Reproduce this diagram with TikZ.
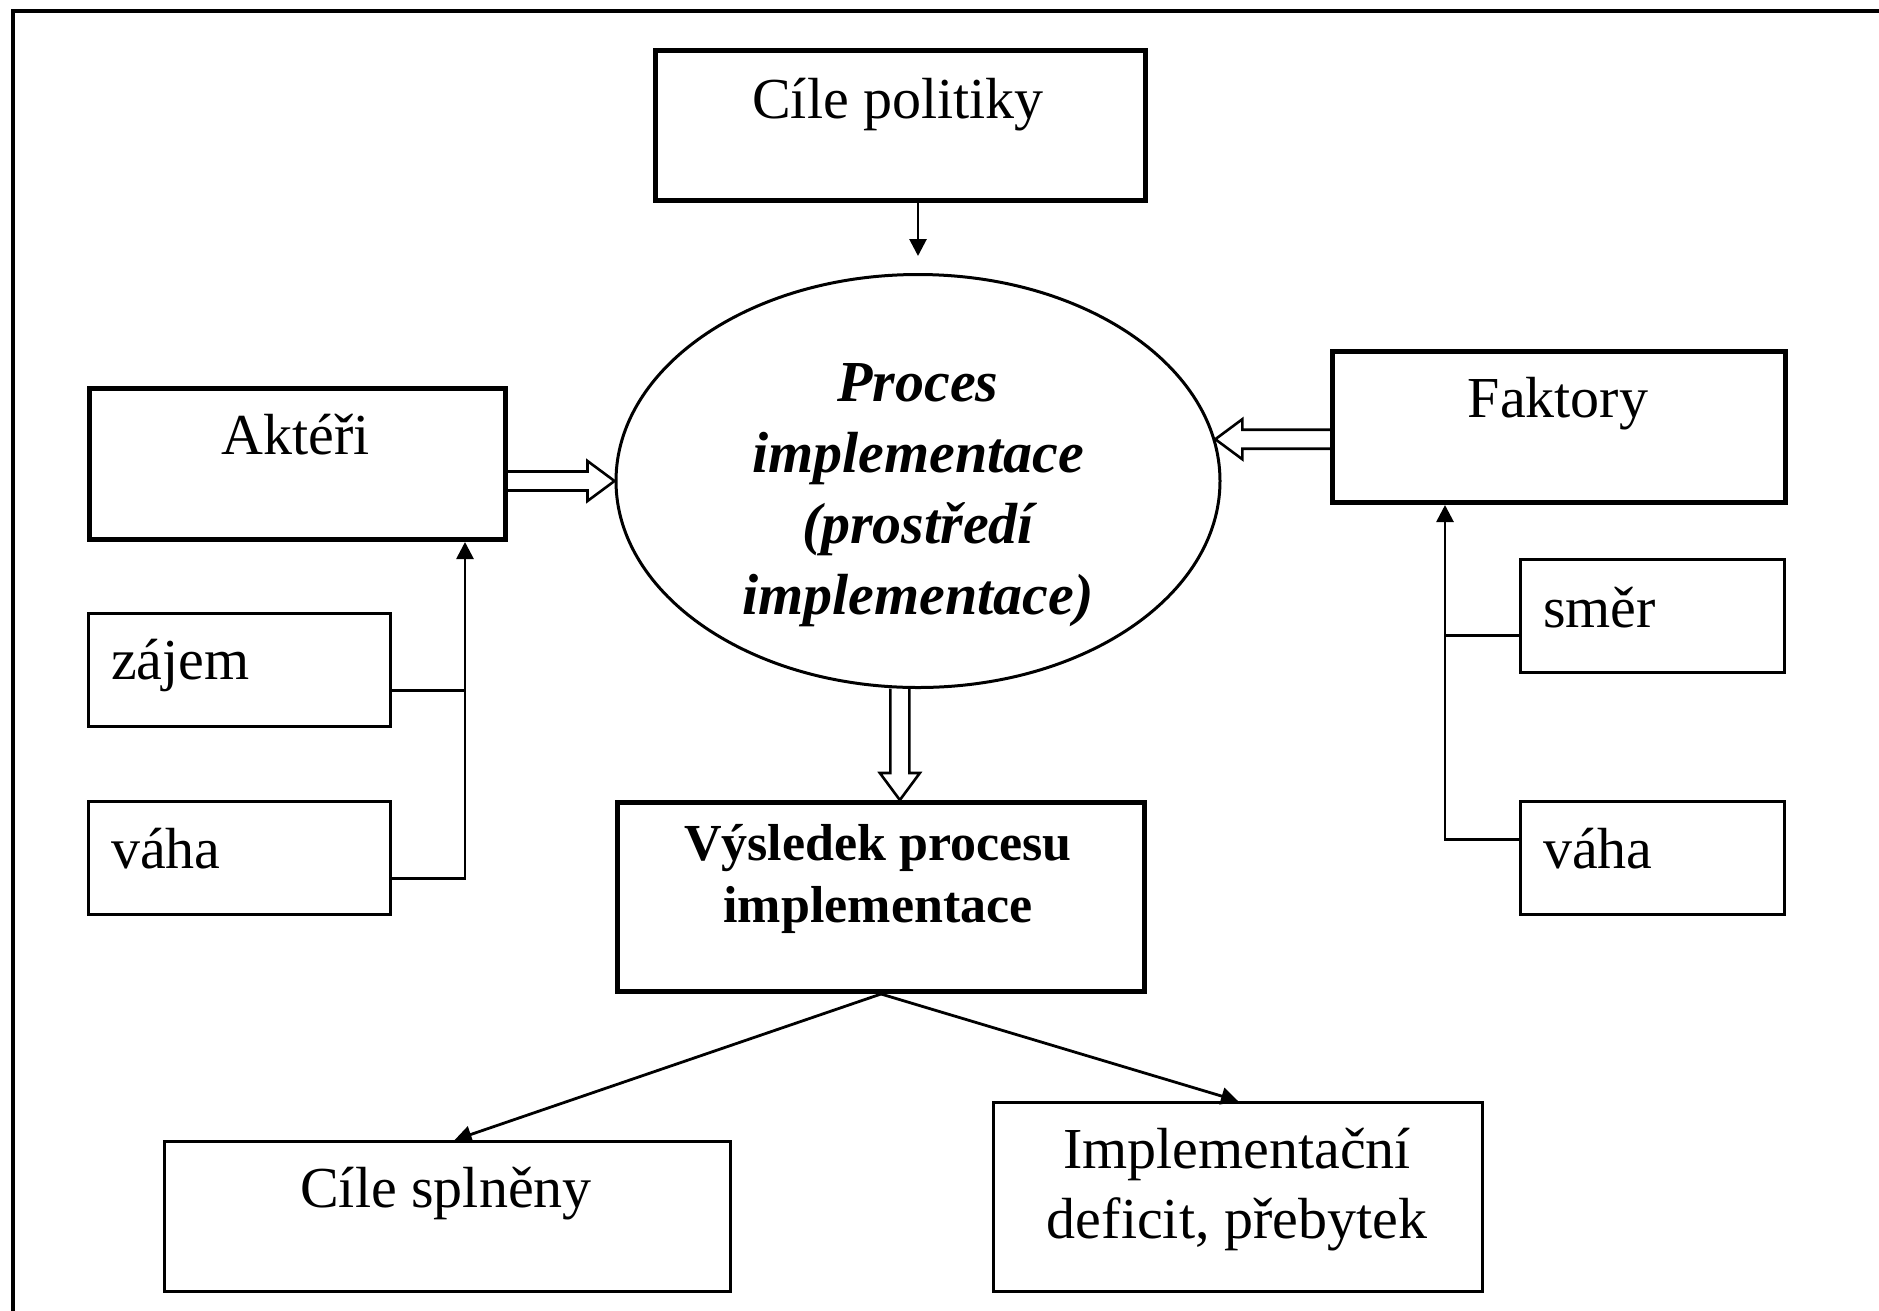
\documentclass[tikz,border=0pt]{standalone}
\usepackage{fontspec}
\setmainfont{Liberation Serif}
\usetikzlibrary{arrows.meta,calc,shapes.geometric}
\newcommand\hollowarrow[2]{%
  \coordinate (ha) at (#1); \coordinate (hb) at (#2);
  \coordinate (hh) at ($(hb)!27pt!(ha)$);
  \draw[hollow] ($(ha)!9.5pt!90:(hb)$) -- ($(hh)!9.5pt!-90:(ha)$) -- ($(hh)!20pt!-90:(ha)$) -- (hb)
     -- ($(hh)!20pt!90:(ha)$) -- ($(hh)!9.5pt!90:(ha)$) -- ($(ha)!9.5pt!-90:(hb)$);}
\begin{document}
\begin{tikzpicture}[x=1pt,y=-1pt,
  boxthick/.style={draw, line width=5pt, inner sep=0pt, anchor=north west},
  boxthin/.style={draw, line width=3.2pt, inner sep=0pt, anchor=north west},
  txt/.style={inner sep=0pt, font=\fontsize{58}{70}\selectfont},
  conn/.style={line width=2.8pt},
  arr/.style={-{Triangle[length=17pt,width=17pt]}},
  hollow/.style={draw, line width=2.6pt, line join=miter}]
\useasboundingbox (0,0) rectangle (1879,1310);
\draw[line width=3.5pt] (13,1315) -- (13,11) -- (1885,11);

% boxes
\node[boxthick, minimum width=490pt, minimum height=150pt] (cil) at (653,48) {};
\node[boxthick, minimum width=416pt, minimum height=151pt] (akt) at (87,386) {};
\node[boxthick, minimum width=453pt, minimum height=151pt] (fak) at (1330,349) {};
\node[boxthin, minimum width=302pt, minimum height=113pt] (zaj) at (87,612) {};
\node[boxthin, minimum width=302pt, minimum height=113pt] (vahaL) at (87,800) {};
\node[boxthin, minimum width=264pt, minimum height=113pt] (smer) at (1519,558) {};
\node[boxthin, minimum width=264pt, minimum height=113pt] (vahaR) at (1519,800) {};
\node[boxthick, minimum width=527pt, minimum height=189pt] (vys) at (615,800) {};
\node[boxthin, minimum width=566pt, minimum height=150pt] (spl) at (163,1140) {};
\node[boxthin, minimum width=489pt, minimum height=189pt] (imp) at (992,1101) {};
\node[draw, ellipse, line width=3pt, minimum width=604pt, minimum height=413pt, inner sep=0pt] (ell) at (918,481) {};

% texts
\node[txt, anchor=base] (tcil) at (898,118) {Cíle politiky};
\node[txt, anchor=base] (takt) at (296,454) {Aktéři};
\node[txt, anchor=base] (tfak) at (1558,417) {Faktory};
\node[txt, anchor=base west] (tzaj) at (111,679) {zájem};
\node[txt, anchor=base west] (tvahaL) at (111,868) {váha};
\node[txt, anchor=base west] (tsmer) at (1543,627) {směr};
\node[txt, anchor=base west] (tvahaR) at (1543,868) {váha};
\node[txt, anchor=base, align=center, font=\bfseries\itshape\fontsize{58}{71}\selectfont] (tell) at (918,614) {Proces\\implementace\\(prostředí\\implementace)};
\node[txt, anchor=base, align=center, font=\bfseries\fontsize{52}{62}\selectfont] (tvys) at (878,922) {Výsledek procesu\\implementace};
\node[txt, anchor=base] (tspl) at (446,1207) {Cíle splněny};
\node[txt, anchor=base, align=center] (timp) at (1237,1238) {Implementační\\deficit, přebytek};

% connectors
\coordinate (top) at (918,256);
\draw[conn, arr] (cil.south -| top) -- (top);

\coordinate (lbus) at (465,876);
\coordinate (zj) at ($(zaj.east)+(0,20)$);
\coordinate (vlj) at ($(vahaL.east)+(0,20)$);
\draw[conn, arr] (vlj) -| (akt.south -| lbus);
\draw[conn] (zj) -- (zj -| lbus);

\coordinate (rbus) at (1445,838);
\coordinate (sj) at ($(smer.west)+(0,19)$);
\coordinate (vrj) at ($(vahaR.west)+(0,-19)$);
\draw[conn, arr] (vrj) -| (fak.south -| rbus);
\draw[conn] (sj) -- (sj -| rbus);

\hollowarrow{akt.east |- ell.west}{ell.west}
\hollowarrow{fak.west |- ell.8}{ell.8}
\hollowarrow{ell.265}{ell.265 |- vys.north}

\draw[conn, arr] (vys.south) -- ($(spl.north)+(7,0)$);
\draw[conn, arr] (vys.south) -- (imp.north);
\end{tikzpicture}
\end{document}
